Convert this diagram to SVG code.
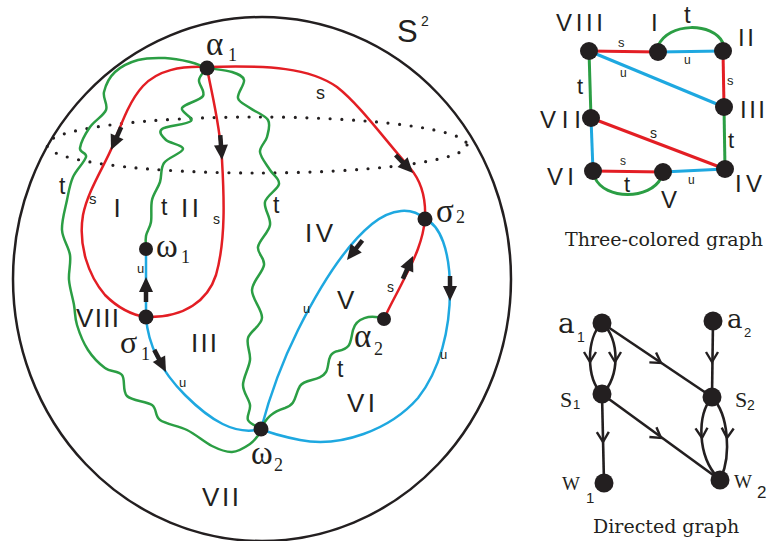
<svg xmlns="http://www.w3.org/2000/svg" xmlns:xlink="http://www.w3.org/1999/xlink" width="770" height="541" viewBox="0 0 770 541">
<style>
.r{stroke:#e31e24;fill:none;stroke-width:2.5;stroke-linecap:round}
.b{stroke:#1ea8e0;fill:none;stroke-width:2.5;stroke-linecap:round}
.g{stroke:#2b9e44;fill:none;stroke-width:2.5;stroke-linecap:round}
.r3{stroke:#e31e24;fill:none;stroke-width:3}
.b3{stroke:#1ea8e0;fill:none;stroke-width:3}
.g3{stroke:#2b9e44;fill:none;stroke-width:3}
.k{stroke:#231f20;fill:none;stroke-width:2.6}
.n{fill:#231f20}
.sans{font-family:"Liberation Sans",Arial,sans-serif;fill:#231f20}
.serif{font-family:"Liberation Serif","Times New Roman",serif;fill:#231f20}
.dserif{font-family:"DejaVu Serif","Liberation Serif",serif;fill:#231f20}
.reg{font-size:26px}
.small{font-size:13px}
</style>
<defs>
<g id="ah"><line x1="-25" y1="0" x2="-12" y2="0" stroke="#231f20" stroke-width="4.5"/><path d="M0,0 L-15,-7 L-15,7 Z" fill="#231f20"/></g>
<path id="chev" d="M-10,-6 L0,0 L-10,6" fill="none" stroke="#231f20" stroke-width="2.4" stroke-linejoin="miter"/>
</defs>
<rect width="770" height="541" fill="#fff"/>

<!-- sphere -->
<g id="sphere">
<ellipse cx="262" cy="279" rx="249" ry="262" fill="none" stroke="#231f20" stroke-width="2.5"/>
<ellipse cx="257" cy="145" rx="210" ry="28" fill="none" stroke="#231f20" stroke-width="3.2" stroke-linecap="round" stroke-dasharray="0 11.6"/>
<text class="sans" x="397" y="42" font-size="31">S</text>
<text class="sans" x="421" y="26" font-size="14">2</text>
</g>

<!-- connectors of the sphere picture -->
<g id="connectors">
<path class="r" d="M207,67 C270,65 310,68 337,87 C360,105 385,140 410,168 C423,183 426,200 425,219"/>
<path class="r" d="M425,219 C423,240 415,258 405,277 C398,292 390,305 384,319"/>
<path class="r" d="M207,67 C180,66 158,70 143,86 C130,100 122,122 113,145 C105,165 88,190 83,215 C78,245 88,275 105,295 C118,308 132,315 146,317"/>
<path class="r" d="M207,68 C212,95 220,125 222,160 C224,195 226,240 216,275 C208,300 185,318 146,317"/>

<path class="b" d="M146,317 L146,249"/>
<path class="b" d="M146,317 C148,345 160,370 185,395 C210,420 235,436 261,429"/>
<path class="b" d="M425,219 C412,207 392,208 372,224 C345,246 318,290 298,330 C282,362 270,395 261,429"/>
<path class="b" d="M425,219 C440,225 450,250 450,290 C450,330 440,370 418,398 C390,430 340,448 300,440 C285,437 270,433 261,429"/>

<path class="g" d="M207,68 C204.3,72 199.7,75.3 199,80 S205.8,91.3 203,96 S184,103.8 182,108 S194.3,117.5 191,121 S166.2,125.8 162,129 S162.5,136.7 166,140 S183.3,145.2 183,149 S167.8,157.5 164,163 S162,175.8 160,182 S153.5,193.3 152,200 S152,216 151,222 S146.8,231.5 146,236 S146,244.7 146,249"/>
<path class="g" d="M207,68 C215.3,69.3 225.8,70 232,72 S243,75.7 244,80 S237,93.3 238,98 S245,104.3 250,108 S265.2,115.2 268,120 S268.3,131.7 267,137 S259.5,146.5 260,152 S266.8,164.7 270,170 S279.8,178.7 279,184 S266.5,195.2 265,202 S271.2,217.5 270,225 S259,240.3 258,247 S265,257.8 264,265 S252.3,281.2 252,290 S262.7,310 262,318 S250,331 248,338 S250.8,352.2 250,360 S243,377.5 243,385 S249.2,399.2 250,405 S246.2,416 248,420 S256.7,426 261,429"/>
<path class="g" d="M207,68 C201.3,66 197,63.7 190,62 S173.7,58.3 165,58 S146.3,57.7 138,60 S120.7,66.7 115,72 S105.5,85.7 104,92 S108.3,104.2 106,110 S94.3,120.7 90,127 S80.7,143 80,148 S87.2,152.2 86,157 S76.2,169.8 73,177 S68.8,191.2 67,200 S61.5,220.8 62,230 S68.8,246.7 70,255 S68.3,271.7 69,280 S72.7,297.5 74,305 S74.7,317.5 77,325 S83.3,342.8 88,350 S99.3,363.8 105,368 S118.3,370.3 122,375 S122,391 127,396 S146.5,401 152,405 S154.2,415.8 160,420 S178.3,425.7 187,430 S204.5,442.3 212,446 S225.7,452.3 232,452 S245.2,447.3 250,444 S257.3,436 261,432"/>
<path class="g" d="M384,319 C370,314 356,318 353,330 C350,342 352,348 338,351 C326,353 330,366 326,372 C320,382 305,378 300,386 C294,396 297,404 285,408 C272,412 266,418 261,429"/>

<use xlink:href="#ah" href="#ah" transform="translate(413,173) rotate(46)"/>
<use xlink:href="#ah" href="#ah" transform="translate(413,256) rotate(-66)"/>
<use xlink:href="#ah" href="#ah" transform="translate(111,150) rotate(114)"/>
<use xlink:href="#ah" href="#ah" transform="translate(222,160) rotate(86)"/>
<use xlink:href="#ah" href="#ah" transform="translate(146,277) rotate(-90)"/>
<use xlink:href="#ah" href="#ah" transform="translate(166,372) rotate(62)"/>
<use xlink:href="#ah" href="#ah" transform="translate(347,260) rotate(128)"/>
<use xlink:href="#ah" href="#ah" transform="translate(450,301) rotate(90)"/>

<text class="sans" x="316" y="99" font-size="18">s</text>
<text class="sans" x="89" y="204" font-size="15">s</text>
<text class="sans" x="213" y="224" font-size="14">s</text>
<text class="sans" x="387" y="292" font-size="14">s</text>
<text class="sans" x="59" y="194" font-size="23">t</text>
<text class="sans" x="161" y="215" font-size="23">t</text>
<text class="sans" x="273" y="213" font-size="23">t</text>
<text class="sans" x="337" y="377" font-size="23">t</text>
<text class="sans small" x="137" y="273">u</text>
<text class="sans small" x="179" y="387">u</text>
<text class="sans small" x="303" y="313">u</text>
<text class="sans small" x="440" y="359">u</text>
</g>

<g id="node-alpha1"><circle class="n" cx="207" cy="68" r="7.5"/><text class="serif" x="206" y="55" font-size="33">α</text><text class="serif" x="228" y="61" font-size="18">1</text></g>
<g id="node-sigma2"><circle class="n" cx="425" cy="219" r="7.5"/><text class="serif" x="436" y="222" font-size="33">σ</text><text class="serif" x="456" y="223" font-size="18">2</text></g>
<g id="node-omega1"><circle class="n" cx="146" cy="249" r="7"/><text class="serif" x="156" y="257" font-size="33">ω</text><text class="serif" x="181" y="263" font-size="18">1</text></g>
<g id="node-sigma1"><circle class="n" cx="146" cy="317" r="7.5"/><text class="serif" x="120" y="353" font-size="32">σ</text><text class="serif" x="141" y="360" font-size="18">1</text></g>
<g id="node-omega2"><circle class="n" cx="261" cy="429" r="7.5"/><text class="serif" x="251" y="464" font-size="33">ω</text><text class="serif" x="274" y="471" font-size="18">2</text></g>
<g id="node-alpha2"><circle class="n" cx="384" cy="319" r="7"/><text class="serif" x="354" y="347" font-size="33">α</text><text class="serif" x="374" y="355" font-size="18">2</text></g>

<g id="regions">
<text class="sans reg" x="113.5" y="217">I</text>
<text class="sans reg" x="181" y="217" textLength="18">II</text>
<text class="sans reg" x="305" y="242" textLength="28">IV</text>
<text class="sans reg" x="337" y="309">V</text>
<text class="sans reg" x="191" y="352" textLength="26">III</text>
<text class="sans reg" x="347" y="412" textLength="28">VI</text>
<text class="sans reg" x="202" y="506" textLength="37">VII</text>
<text class="sans reg" x="76" y="327" textLength="43">VIII</text>
</g>

<!-- Three-colored graph -->
<g id="tcg-connectors">
<path class="r3" d="M589,51 L658,52"/>
<path class="b3" d="M658,52 L723,51"/>
<path class="g3" d="M658,46 C668,22 713,22 723,43"/>
<path class="r3" d="M723,51 L724,107"/>
<path class="b3" d="M589,51 L724,107"/>
<path class="g3" d="M589,51 L591,118"/>
<path class="g3" d="M724,107 L725,169"/>
<path class="r3" d="M591,118 L725,169"/>
<path class="b3" d="M591,118 L593,171"/>
<path class="r3" d="M593,171 L663,172"/>
<path class="g3" d="M595,178 C605,200 650,200 661,178"/>
<path class="b3" d="M663,172 L725,169"/>
<text class="sans" x="618" y="47" font-size="13">s</text>
<text class="sans" x="684" y="64" font-size="12">u</text>
<text class="sans" x="684" y="23" font-size="24">t</text>
<text class="sans" x="727" y="85" font-size="13">s</text>
<text class="sans" x="620" y="77" font-size="12">u</text>
<text class="sans" x="577" y="94" font-size="22">t</text>
<text class="sans" x="728" y="148" font-size="22">t</text>
<text class="sans" x="650" y="138" font-size="14">s</text>
<text class="sans" x="620" y="165" font-size="12">s</text>
<text class="sans" x="624" y="192" font-size="22">t</text>
<text class="sans" x="688" y="184" font-size="12">u</text>
</g>
<g id="tcg-VIII"><circle class="n" cx="589" cy="51" r="9"/><text class="sans" x="556" y="31" font-size="24" textLength="47">VIII</text></g>
<g id="tcg-I"><circle class="n" cx="658" cy="52" r="9"/><text class="sans" x="651" y="31" font-size="24">I</text></g>
<g id="tcg-II"><circle class="n" cx="723" cy="51" r="9"/><text class="sans" x="738" y="46" font-size="24" textLength="16">II</text></g>
<g id="tcg-III"><circle class="n" cx="724" cy="107" r="9"/><text class="sans" x="740" y="118" font-size="24" textLength="25">III</text></g>
<g id="tcg-VII"><circle class="n" cx="591" cy="118" r="9"/><text class="sans" x="540" y="128" font-size="24" textLength="41">VII</text></g>
<g id="tcg-VI"><circle class="n" cx="593" cy="171" r="9"/><text class="sans" x="547" y="185" font-size="24" textLength="27">VI</text></g>
<g id="tcg-V"><circle class="n" cx="663" cy="172" r="9"/><text class="sans" x="661" y="208" font-size="24">V</text></g>
<g id="tcg-IV"><circle class="n" cx="725" cy="169" r="9"/><text class="sans" x="735" y="192" font-size="24" textLength="27">IV</text></g>
<text class="dserif" x="565" y="246" font-size="19">Three-colored graph</text>

<!-- Directed graph -->
<g id="dg-connectors">
<path class="k" d="M602,323 C586,338 586,378 602,394"/>
<path class="k" d="M602,323 C620,338 620,378 602,394"/>
<path class="k" d="M602,323 L712,397"/>
<path class="k" d="M713,321 L712,397"/>
<path class="k" d="M602,394 L604,483"/>
<path class="k" d="M602,394 L720,480"/>
<path class="k" d="M712,397 C697,415 697,455 718,478"/>
<path class="k" d="M712,397 C729,415 731,455 721,478"/>
<use xlink:href="#chev" href="#chev" transform="translate(590,362) rotate(90)"/>
<use xlink:href="#chev" href="#chev" transform="translate(615,362) rotate(90)"/>
<use xlink:href="#chev" href="#chev" transform="translate(661,363) rotate(34)"/>
<use xlink:href="#chev" href="#chev" transform="translate(712,362) rotate(90)"/>
<use xlink:href="#chev" href="#chev" transform="translate(603,442) rotate(89)"/>
<use xlink:href="#chev" href="#chev" transform="translate(661,438) rotate(36)"/>
<use xlink:href="#chev" href="#chev" transform="translate(702,438) rotate(87)"/>
<use xlink:href="#chev" href="#chev" transform="translate(727,438) rotate(94)"/>
</g>
<g id="dg-a1"><circle class="n" cx="602" cy="323" r="9.5"/><text class="dserif" x="558" y="333" font-size="28">a</text><text class="sans" x="577" y="342" font-size="14">1</text></g>
<g id="dg-a2"><circle class="n" cx="713" cy="321" r="9.5"/><text class="dserif" x="727" y="328" font-size="26">a</text><text class="sans" x="744" y="337" font-size="13">2</text></g>
<g id="dg-S1"><circle class="n" cx="602" cy="394" r="9.5"/><text class="serif" x="560" y="407" font-size="22">S</text><text class="sans" x="573" y="409" font-size="13">1</text></g>
<g id="dg-S2"><circle class="n" cx="712" cy="397" r="9.5"/><text class="serif" x="735" y="407" font-size="22">S</text><text class="sans" x="747" y="410" font-size="14">2</text></g>
<g id="dg-W1"><circle class="n" cx="604" cy="483" r="9.5"/><text class="serif" x="562" y="490" font-size="19">W</text><text class="sans" x="586" y="503" font-size="15">1</text></g>
<g id="dg-W2"><circle class="n" cx="720" cy="480" r="9.5"/><text class="serif" x="734" y="488" font-size="19">W</text><text class="sans" x="757" y="498" font-size="17">2</text></g>
<text class="dserif" x="593" y="533" font-size="19">Directed graph</text>
</svg>
